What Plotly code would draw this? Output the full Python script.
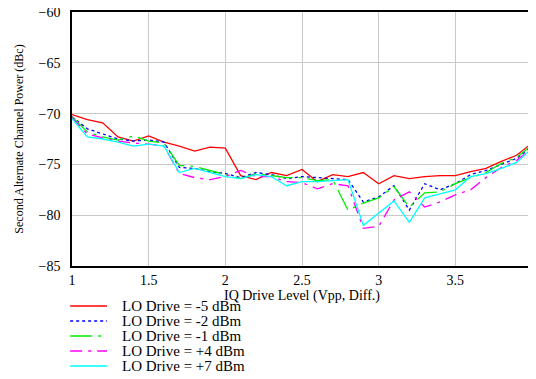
import plotly.graph_objects as go

iq_drive = [round(1.0 + 0.1 * i, 1) for i in range(31)]

lo_m5 = [-70.1, -70.6, -70.9, -72.3, -72.7, -72.2, -72.8, -73.2, -73.7, -73.3, -73.4,
         -76.1, -76.5, -75.8, -76.1, -75.5, -76.7, -76.0, -76.2, -75.8, -76.9,
         -76.1, -76.4, -76.2, -76.1, -76.1, -75.7, -75.4, -74.7, -74.1, -72.9]
lo_m2 = [-70.3, -71.5, -72.0, -72.5, -72.7, -72.6, -72.8, -75.3, -75.4, -75.7, -75.9,
         -76.3, -75.8, -76.0, -76.4, -76.2, -76.3, -76.4, -76.5, -78.7, -78.2,
         -77.1, -79.5, -76.9, -77.5, -76.9, -76.0, -75.6, -75.0, -74.4, -73.2]
lo_m1 = [-70.3, -71.8, -72.3, -72.6, -72.2, -72.7, -72.9, -75.1, -75.2, -75.6, -76.0,
         -76.4, -75.9, -76.1, -76.3, -76.3, -76.6, -76.5, -79.5, -78.8, -78.3,
         -77.2, -79.2, -77.8, -77.7, -76.9, -76.3, -75.8, -74.9, -74.3, -73.1]
lo_p4 = [-70.4, -72.0, -72.4, -72.7, -72.9, -73.0, -73.2, -75.9, -76.3, -76.5, -76.2,
         -75.6, -76.2, -76.2, -76.7, -76.8, -77.4, -76.9, -77.1, -81.3, -81.1,
         -78.5, -77.7, -79.2, -78.7, -78.0, -77.5, -76.3, -75.3, -74.6, -73.4]
lo_p7 = [-70.5, -72.3, -72.5, -72.8, -73.2, -73.0, -73.2, -75.8, -75.4, -75.8, -76.2,
         -76.4, -76.0, -76.2, -77.1, -76.7, -76.7, -76.6, -76.5, -81.0, -79.8,
         -78.6, -80.7, -78.3, -77.9, -77.5, -76.2, -75.9, -75.4, -74.8, -73.4]

series = [
    ("LO Drive = -5 dBm", lo_m5, "#ff0000", "solid"),
    ("LO Drive = -2 dBm", lo_m2, "#0000ff", "3px,3px"),
    ("LO Drive = -1 dBm", lo_m1, "#00ee00", "22px,6px,3px,6px"),
    ("LO Drive = +4 dBm", lo_p4, "#ff00ff", "12px,6px,3px,6px"),
    ("LO Drive = +7 dBm", lo_p7, "#00ffff", "solid"),
]

SERIF = "Liberation Serif, Times New Roman, serif"

# the page has an 8px body margin, so the figure is kept 8px smaller than the window
W, H = 528, 371
M = dict(l=64, r=4, t=4, b=113)
plot_h = H - M["t"] - M["b"]

fig = go.Figure()
for name, vals, color, dash in series:
    fig.add_trace(go.Scatter(
        x=iq_drive, y=vals, mode="lines", name=name,
        line=dict(color=color, width=1.3, dash=dash),
    ))

# plotly's legend rows are too tall here, so the key is drawn below the axes by hand
for i, (name, vals, color, dash) in enumerate(series):
    yp = -(40 + 15 * i) / plot_h
    fig.add_shape(type="line", xref="paper", yref="paper",
                  x0=-0.004, x1=0.076, y0=yp, y1=yp,
                  line=dict(color=color, width=1.3, dash=dash))
    fig.add_annotation(text=name, xref="paper", yref="paper",
                       x=0.104, y=yp, xanchor="left", yanchor="middle",
                       showarrow=False, font=dict(family=SERIF, size=15, color="black"))

# plotly drops the last x tick label at the right edge, so put it back as text
fig.add_annotation(text="4", xref="x", yref="paper", x=4, y=0,
                   xanchor="center", yanchor="top", yshift=-4, showarrow=False,
                   font=dict(family=SERIF, size=14, color="black"))

fig.update_layout(
    width=W, height=H,
    margin=dict(**M, autoexpand=False),
    plot_bgcolor="white", paper_bgcolor="white",
    font=dict(family=SERIF, size=14, color="black"),
    showlegend=False,
    xaxis=dict(
        range=[1, 4], tick0=1, dtick=0.5,
        showgrid=True, gridcolor="#c8c8c8", gridwidth=1,
        showline=True, linecolor="black", linewidth=1.5, mirror=True,
        ticks="", zeroline=False, automargin=False, ticklabelstandoff=0,
        ticklabeloverflow="allow",
        title=dict(text="IQ Drive Level (Vpp, Diff.)", standoff=4, font=dict(size=14)),
    ),
    yaxis=dict(
        range=[-85, -60], dtick=5, showgrid=True, gridcolor="#c8c8c8", gridwidth=1,
        showline=True, linecolor="black", linewidth=1.5, mirror=True,
        ticks="", zeroline=False, automargin=False, ticklabelstandoff=7,
        ticklabeloverflow="allow",
        title=dict(text="Second Alternate Channel Power (dBc)", standoff=12, font=dict(size=12)),
    ),
)

fig.write_html("out.html")
